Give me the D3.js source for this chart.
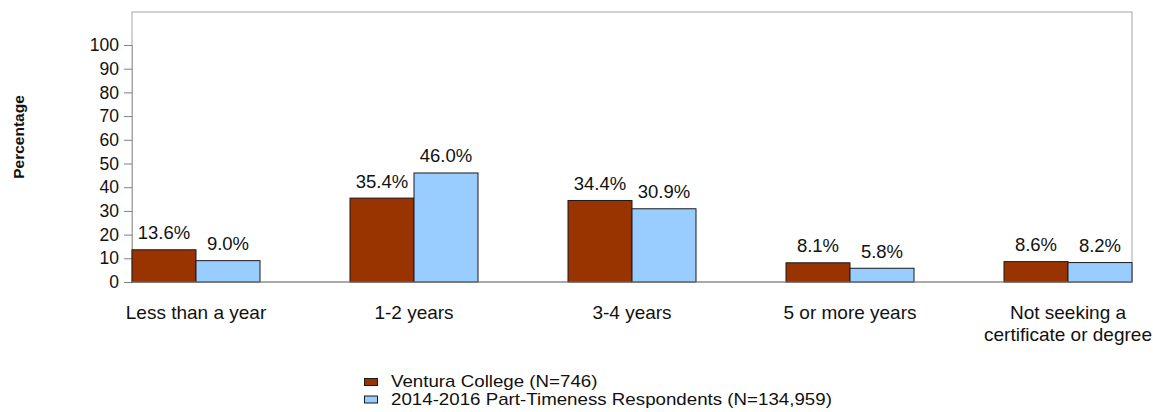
<!DOCTYPE html>
<html>
<head>
<meta charset="utf-8">
<script src="https://cdn.jsdelivr.net/npm/d3@7"></script>
<style>
  body { margin: 0; background: #fff; }
  svg { display: block; font-family: "Liberation Sans", Arial, sans-serif; }
</style>
</head>
<body>
<svg id="chart" width="1153" height="412"></svg>
<script>
const categories = ["Less than a year", "1-2 years", "3-4 years", "5 or more years", "Not seeking a\ncertificate or degree"];
const college = [13.6, 35.4, 34.4, 8.1, 8.6];
const statewide = [9.0, 46.0, 30.9, 5.8, 8.2];
const seriesNames = ["Ventura College (N=746)", "2014-2016 Part-Timeness Respondents (N=134,959)"];
const seriesColors = ["#993300", "#99ccff"];
const yTicks = [0, 10, 20, 30, 40, 50, 60, 70, 80, 90, 100];

const svg = d3.select("#chart");
const frame = { left: 132, right: 1132, top: 12, bottom: 282 };

const y = d3.scaleLinear().domain([0, 100]).range([282, 45]);
const x = d3.scalePoint().domain(categories).range([196, 1068]);
const barW = 64;

// plot frame
svg.append("rect")
  .attr("x", frame.left).attr("y", frame.top)
  .attr("width", frame.right - frame.left).attr("height", frame.bottom - frame.top)
  .attr("fill", "none").attr("stroke", "#a6a6a6").attr("stroke-width", 1);

// y axis
const yAxis = d3.axisLeft(y).tickValues(yTicks).tickSize(8).tickPadding(5);
const yg = svg.append("g").attr("transform", `translate(${frame.left},0)`).call(yAxis);
yg.select(".domain").attr("stroke", "#a6a6a6");
yg.selectAll(".tick line").attr("stroke", "#808080");
yg.selectAll(".tick text").attr("font-size", 17.5).attr("fill", "#111").attr("font-family", "Liberation Sans, Arial, sans-serif");

svg.append("text")
  .attr("transform", "translate(24,137) rotate(-90)")
  .attr("text-anchor", "middle")
  .attr("font-size", 15.5).attr("font-weight", "bold").attr("fill", "#111")
  .text("Percentage");

// bars
const groups = categories.map((c, i) => ({ c, vals: [college[i], statewide[i]] }));
const g = svg.append("g");
groups.forEach((d) => {
  d.vals.forEach((v, j) => {
    const bx = x(d.c) - barW + j * barW;
    g.append("rect")
      .attr("x", bx).attr("y", y(v))
      .attr("width", barW).attr("height", y(0) - y(v))
      .attr("fill", seriesColors[j]).attr("stroke", "#1a1a1a").attr("stroke-width", 1);
    g.append("text")
      .attr("x", bx + barW / 2).attr("y", y(v) - 10.5)
      .attr("text-anchor", "middle").attr("font-size", 18.5).attr("fill", "#111")
      .text(v.toFixed(1) + "%");
  });
});

// bottom axis line
svg.append("line")
  .attr("x1", frame.left).attr("x2", frame.right)
  .attr("y1", y(0)).attr("y2", y(0))
  .attr("stroke", "#808080").attr("stroke-width", 1.2);

// category labels
categories.forEach((c) => {
  const t = svg.append("text")
    .attr("text-anchor", "middle").attr("font-size", 19).attr("fill", "#111");
  c.split("\n").forEach((line, k) => {
    t.append("tspan").attr("x", x(c)).attr("y", 319 + k * 21.5).text(line);
  });
});

// legend (text stretched a little horizontally so rows stay apart)
seriesNames.forEach((name, j) => {
  const ly = 378 + j * 17.5;
  svg.append("rect")
    .attr("x", 364.5).attr("y", ly + 0.5).attr("width", 13).attr("height", 7)
    .attr("fill", seriesColors[j]).attr("stroke", "#1a1a1a").attr("stroke-width", 1);
  svg.append("text")
    .attr("transform", `translate(391,${ly + 9}) scale(1.17,1)`)
    .attr("font-size", 16).attr("fill", "#111")
    .text(name);
});
</script>
</body>
</html>
